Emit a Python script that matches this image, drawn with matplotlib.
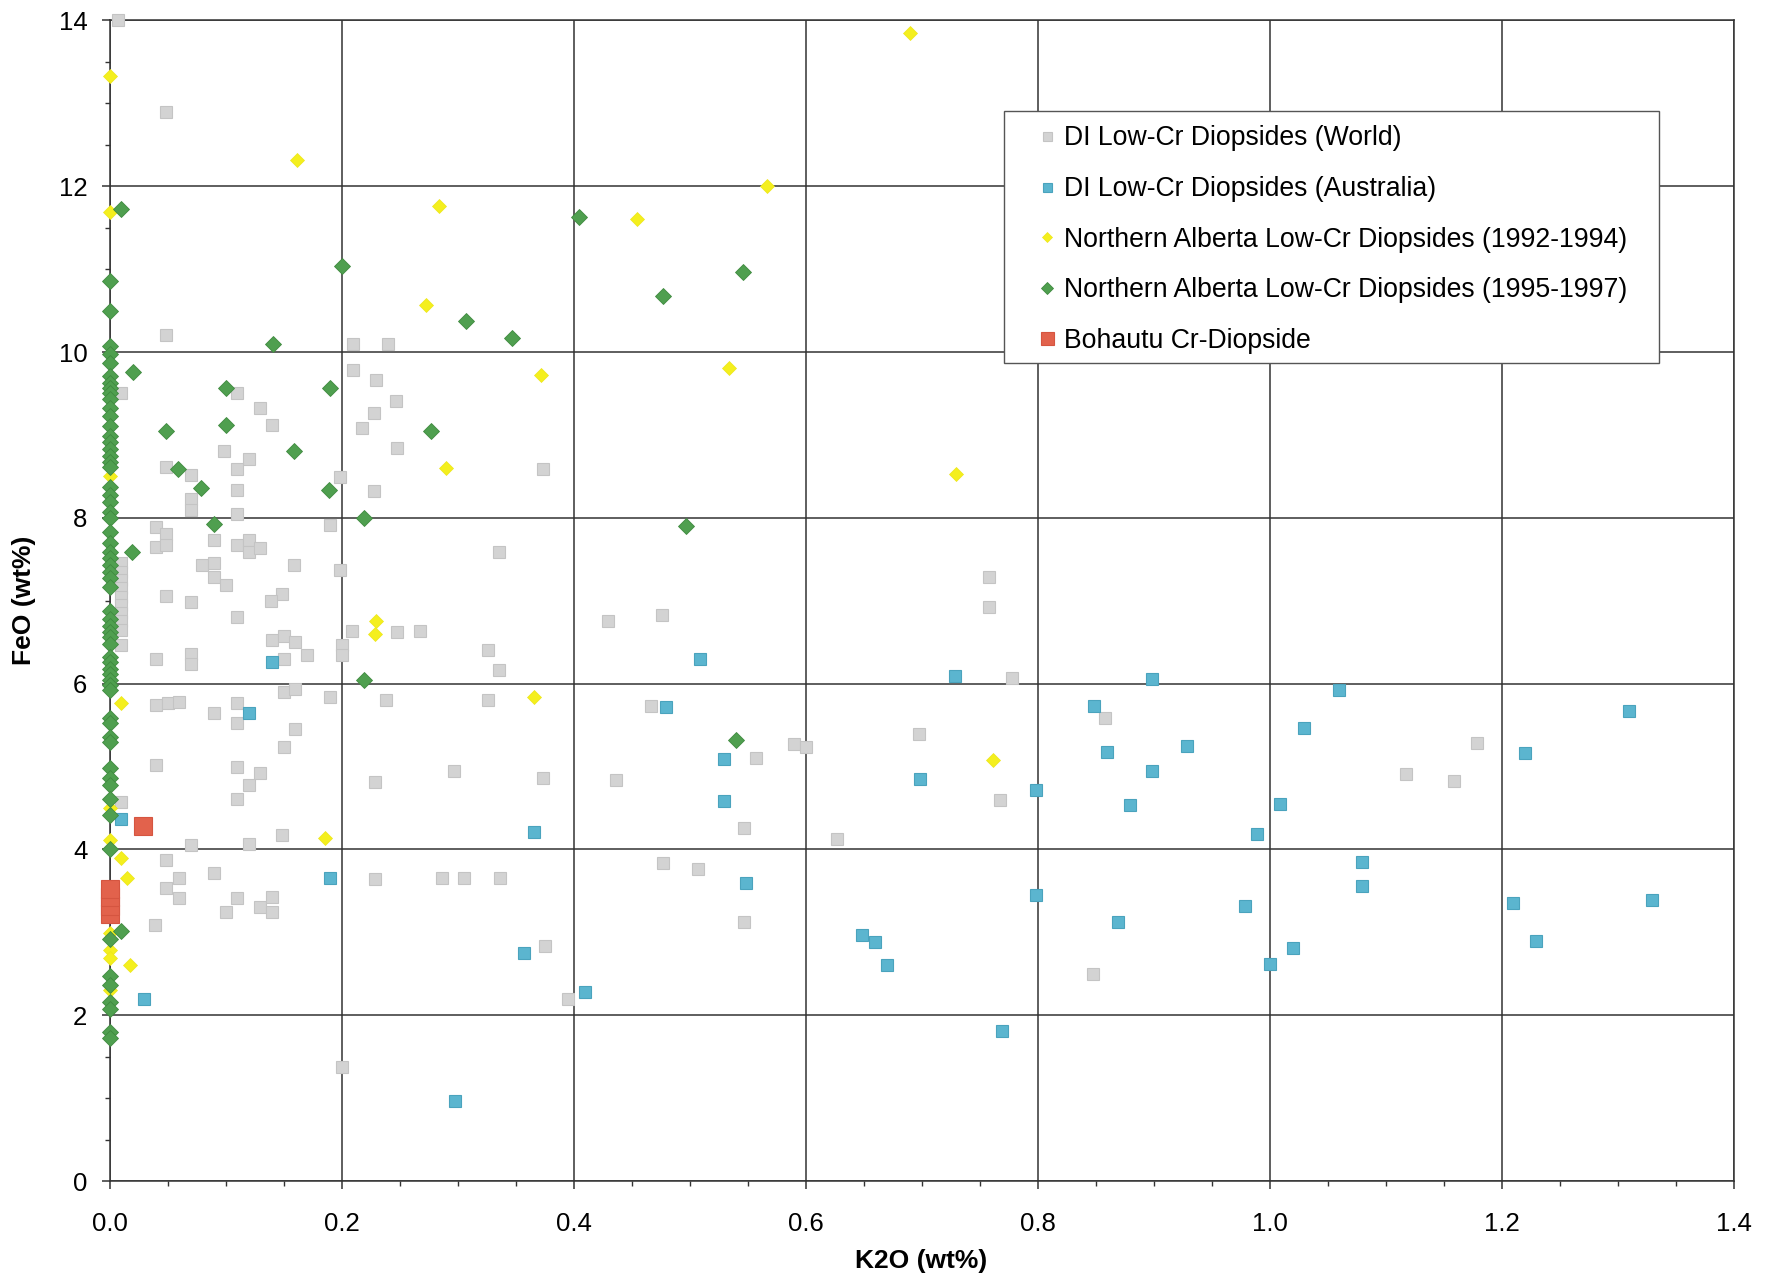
import matplotlib
matplotlib.use('Agg')
import matplotlib.pyplot as plt
from matplotlib.patches import Rectangle
from matplotlib.ticker import MultipleLocator, FormatStrFormatter

plt.rcParams['font.family'] = ['Liberation Sans', 'DejaVu Sans']

# DI low-Cr diopsides, world dataset (K2O, FeO in wt%)
world_k2o = [0.007, 0.049, 0.049, 0.01,
             0.21, 0.24, 0.21, 0.23, 0.247, 0.228, 0.218, 0.248, 0.199, 0.228, 0.19, 0.199,
             0.11, 0.13, 0.14, 0.099, 0.12, 0.11, 0.049, 0.07, 0.11, 0.07, 0.07, 0.11, 0.04, 0.049,
             0.04, 0.049, 0.09, 0.11, 0.12, 0.12, 0.13, 0.08, 0.09, 0.09, 0.1, 0.159, 0.049, 0.07,
             0.149, 0.139, 0.11,
             0.01, 0.01, 0.01, 0.01, 0.01, 0.01, 0.01, 0.01, 0.01, 0.01,
             0.209, 0.248, 0.268, 0.14, 0.15, 0.16, 0.17, 0.2, 0.2, 0.04, 0.07, 0.07, 0.15, 0.326,
             0.336, 0.15, 0.16, 0.19, 0.04, 0.05, 0.06, 0.09, 0.11, 0.238, 0.326, 0.11, 0.16, 0.15,
             0.04, 0.11, 0.13, 0.12, 0.229, 0.297, 0.374, 0.11, 0.01, 0.336, 0.374,
             0.375, 0.395, 0.2, 0.229, 0.287, 0.306, 0.337, 0.149, 0.12, 0.07, 0.049, 0.06, 0.09,
             0.049, 0.06, 0.11, 0.1, 0.13, 0.14, 0.14, 0.039,
             0.43, 0.476, 0.467, 0.437, 0.477, 0.507, 0.547, 0.547, 0.557, 0.59, 0.6, 0.627, 0.698,
             0.758, 0.758, 0.768, 0.778, 0.858, 0.848, 1.118, 1.159, 1.179]
world_feo = [14.0, 12.9, 10.2, 9.5,
             10.1, 10.1, 9.78, 9.66, 9.41, 9.27, 9.08, 8.84, 8.49, 8.32, 7.91, 7.37,
             9.5, 9.33, 9.12, 8.81, 8.71, 8.59, 8.61, 8.52, 8.34, 8.23, 8.09, 8.05, 7.89, 7.81,
             7.65, 7.67, 7.73, 7.67, 7.73, 7.59, 7.63, 7.43, 7.45, 7.29, 7.19, 7.43, 7.06, 6.98,
             7.08, 7.0, 6.8,
             7.45, 7.35, 7.25, 7.15, 7.05, 6.95, 6.85, 6.75, 6.65, 6.46,
             6.63, 6.62, 6.63, 6.52, 6.58, 6.5, 6.35, 6.46, 6.34, 6.3, 6.36, 6.24, 6.3, 6.41,
             6.17, 5.9, 5.94, 5.84, 5.74, 5.77, 5.78, 5.64, 5.77, 5.8, 5.8, 5.52, 5.45, 5.24,
             5.02, 5.0, 4.92, 4.78, 4.81, 4.94, 4.86, 4.61, 4.57, 7.59, 8.59,
             2.83, 2.2, 1.37, 3.64, 3.66, 3.66, 3.66, 4.17, 4.06, 4.05, 3.87, 3.66, 3.72,
             3.53, 3.41, 3.41, 3.25, 3.3, 3.43, 3.25, 3.09,
             6.75, 6.83, 5.73, 4.84, 3.84, 3.76, 4.26, 3.12, 5.1, 5.27, 5.24, 4.12, 5.39,
             7.28, 6.93, 4.6, 6.07, 5.58, 2.5, 4.91, 4.82, 5.28]

# DI low-Cr diopsides, Australia
aus_k2o = [0.01, 0.03, 0.14, 0.12, 0.19, 0.298, 0.357, 0.366, 0.41, 0.48, 0.509, 0.53, 0.53,
           0.549, 0.649, 0.66, 0.67, 0.699, 0.729, 0.769, 0.799, 0.799, 0.849, 0.86, 0.869,
           0.88, 0.899, 0.899, 0.929, 0.979, 0.989, 1.0, 1.009, 1.02, 1.03, 1.06, 1.08, 1.08,
           1.21, 1.22, 1.23, 1.31, 1.33]
aus_feo = [4.37, 2.19, 6.26, 5.65, 3.66, 0.96, 2.75, 4.21, 2.28, 5.72, 6.3, 5.09, 4.58,
           3.59, 2.97, 2.88, 2.6, 4.85, 6.09, 1.81, 4.72, 3.45, 5.73, 5.18, 3.13,
           4.54, 6.05, 4.95, 5.25, 3.32, 4.18, 2.62, 4.55, 2.81, 5.47, 5.92, 3.85, 3.56,
           3.35, 5.16, 2.89, 5.67, 3.39]

# Northern Alberta low-Cr diopsides, 1992-1994
na92_k2o = [0.0, 0.0, 0.162, 0.284, 0.273, 0.372, 0.455, 0.567, 0.69, 0.534, 0.73, 0.0, 0.29,
            0.23, 0.229, 0.01, 0.366, 0.762, 0.186, 0.0, 0.01, 0.015, 0.0, 0.0, 0.0, 0.018,
            0.0, 0.0]
na92_feo = [13.33, 11.69, 12.32, 11.76, 10.57, 9.72, 11.6, 12.0, 13.85, 9.81, 8.53, 8.51, 8.6,
            6.75, 6.6, 5.77, 5.84, 5.08, 4.14, 4.11, 3.9, 3.65, 2.99, 2.79, 2.69, 2.6,
            2.3, 4.5]

# Northern Alberta low-Cr diopsides, 1995-1997 (most of them sit on K2O = 0)
na95_axis_feo = [10.86, 10.49, 10.07, 9.97, 9.87, 9.71, 9.63, 9.57, 9.51, 9.43, 9.33, 9.23,
                 9.11, 8.99, 8.91, 8.83, 8.75, 8.67, 8.61, 8.37, 8.27, 8.19, 8.07, 8.0, 7.83,
                 7.69, 7.59, 7.51, 7.43, 7.35, 7.27, 7.16, 6.88, 6.78, 6.70, 6.62, 6.56, 6.48,
                 6.32, 6.26, 6.18, 6.12, 6.04, 5.98, 5.92, 5.58, 5.52, 5.36, 5.30, 4.98, 4.86,
                 4.78, 4.61, 4.41, 4.0, 2.92, 2.47, 2.36, 2.16, 2.08, 1.8, 1.73]
na95_k2o = [0.01, 0.2, 0.405, 0.307, 0.347, 0.141, 0.02, 0.1, 0.19, 0.1, 0.049, 0.277, 0.159,
            0.059, 0.079, 0.189, 0.219, 0.09, 0.019, 0.219, 0.497, 0.54, 0.477, 0.546, 0.01]
na95_feo = [11.73, 11.04, 11.63, 10.37, 10.17, 10.1, 9.76, 9.56, 9.56, 9.12, 9.05, 9.05, 8.81,
            8.59, 8.36, 8.33, 8.0, 7.93, 7.59, 6.04, 7.9, 5.32, 10.67, 10.97, 3.01]

# Bohautu Cr-diopside
boh_k2o = [0.0, 0.0, 0.0, 0.0, 0.029]
boh_feo = [3.22, 3.32, 3.42, 3.52, 4.28]

fig = plt.figure(figsize=(17.69, 12.83), dpi=100)
ax = fig.add_axes([0.0619, 0.0795, 0.9181, 0.9046])

ax.plot(world_k2o, world_feo, ls='none', marker='s', ms=9, mfc='#d3d3d3', mec='#c4c4c4',
        mew=0.8, label='DI Low-Cr Diopsides (World)', zorder=3, clip_on=False)
ax.plot(aus_k2o, aus_feo, ls='none', marker='s', ms=9, mfc='#5bb5cf', mec='#4aa3bd',
        mew=0.8, label='DI Low-Cr Diopsides (Australia)', zorder=3, clip_on=False)
ax.plot(na92_k2o, na92_feo, ls='none', marker='D', ms=7, mfc='#f4ef1e', mec='#ece61a',
        mew=0.5, label='Northern Alberta Low-Cr Diopsides (1992-1994)', zorder=4, clip_on=False)
na95_all_k2o = [0.0] * len(na95_axis_feo) + na95_k2o
na95_all_feo = na95_axis_feo + na95_feo
ax.plot(na95_all_k2o, na95_all_feo, ls='none', marker='D', ms=8, mfc='#4f9f4f', mec='#3f8a3f',
        mew=0.6, label='Northern Alberta Low-Cr Diopsides (1995-1997)', zorder=5, clip_on=False)
ax.plot(boh_k2o, boh_feo, ls='none', marker='s', ms=13, mfc='#e2624c', mec='#d55540',
        mew=0.8, label='Bohautu Cr-Diopside', zorder=6, clip_on=False)

ax.set_xlim(0, 1.4)
ax.set_ylim(0, 14)
ax.xaxis.set_major_locator(MultipleLocator(0.2))
ax.xaxis.set_minor_locator(MultipleLocator(0.05))
ax.yaxis.set_major_locator(MultipleLocator(2))
ax.yaxis.set_minor_locator(MultipleLocator(0.5))
ax.xaxis.set_major_formatter(FormatStrFormatter('%.1f'))
ax.grid(True, which='major', color='#333333', lw=1.1, zorder=1)
ax.set_axisbelow(True)
for s in ax.spines.values():
    s.set_color('#333333'); s.set_linewidth(1.1)
ax.tick_params(which='major', direction='out', length=6, width=1.1, color='#333333',
               labelsize=18.5)
ax.tick_params(which='minor', direction='out', length=3.5, width=1.0, color='#333333')
ax.tick_params(axis='x', which='major', pad=16)
ax.tick_params(axis='y', which='major', pad=10)

ax.set_xlabel('K2O (wt%)', fontsize=19, fontweight='bold', labelpad=10)
ax.set_ylabel('FeO (wt%)', fontsize=19, fontweight='bold', labelpad=16)

# legend box drawn separately so the side padding can be wider than the top/bottom padding
ax.add_patch(Rectangle((0.5507, 0.7046), 0.4035, 0.2177, transform=ax.transAxes,
                       facecolor='white', edgecolor='#555555', lw=1.0, zorder=7))
leg = ax.legend(loc='upper left', bbox_to_anchor=(0.5688, 0.9095), fontsize=19.2,
                markerscale=0.72, frameon=False, handlelength=1.0, handletextpad=0.15,
                labelspacing=0.92, borderpad=0, borderaxespad=0)
leg.set_zorder(8)

fig.savefig('out.png', dpi=100, facecolor='white')
